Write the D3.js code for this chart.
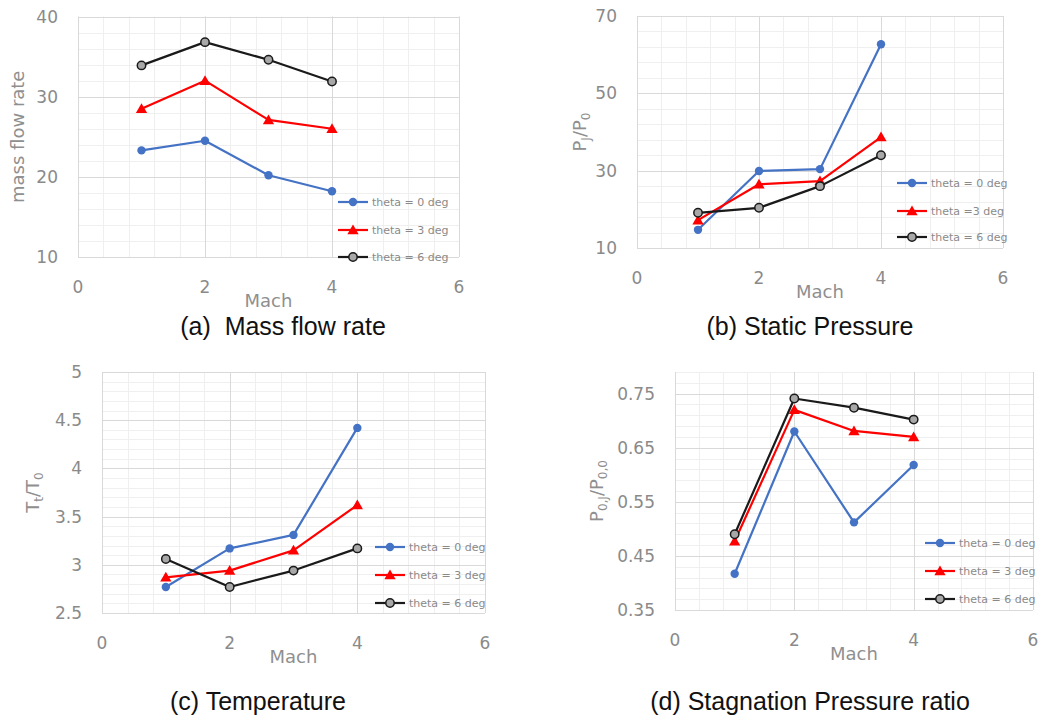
<!DOCTYPE html>
<html lang="en">
<head>
    <meta charset="UTF-8">
    <title>Mach number study</title>
    <style>
        body { margin: 0; background: #fff; }
        svg { display: block; }
        .tick-label { font-family: "DejaVu Sans", sans-serif; font-size: 17px; fill: #8a8a8a; }
        .axis-title { font-family: "DejaVu Sans", sans-serif; font-size: 18px; fill: #8f8f8f; }
        .legend-text { font-family: "DejaVu Sans", sans-serif; font-size: 11px; fill: #8a8a8a; }
        .caption { font-family: "Liberation Sans", Arial, sans-serif; font-size: 25px; fill: #111; }
        .grid-major { stroke: #d9d9d9; stroke-width: 1; }
        .grid-minor { stroke: #efefef; stroke-width: 1; }
    </style>
    <script src="https://d3js.org/d3.v7.min.js"></script>
</head>
<body>
    <svg width="1041" height="724"></svg>
    <script>
        // shared x values and series names
        const mach = [1, 2, 3, 4];
        const seriesNames = ["theta = 0 deg", "theta = 3 deg", "theta = 6 deg"];
        const seriesNamesB = ["theta = 0 deg", "theta =3 deg", "theta = 6 deg"];
        const xTicks = [0, 2, 4, 6];

        // (a) mass flow rate
        const massFlow0 = [23.3, 24.5, 20.2, 18.2];
        const massFlow3 = [28.5, 32.0, 27.1, 26.0];
        const massFlow6 = [33.9, 36.8, 34.6, 31.9];
        const massTicks = [10, 20, 30, 40];

        // (b) static pressure ratio
        const pres0 = [14.7, 29.9, 30.4, 62.7];
        const pres3 = [17.2, 26.5, 27.3, 38.7];
        const pres6 = [19.1, 20.4, 26.0, 34.0];
        const presTicks = [10, 30, 50, 70];

        // (c) temperature ratio
        const temp0 = [2.77, 3.17, 3.31, 4.42];
        const temp3 = [2.87, 2.94, 3.15, 3.62];
        const temp6 = [3.06, 2.77, 2.94, 3.17];
        const tempTicks = [2.5, 3, 3.5, 4, 4.5, 5];

        // (d) stagnation pressure ratio
        const stag0 = [0.417, 0.680, 0.512, 0.618];
        const stag3 = [0.477, 0.720, 0.681, 0.670];
        const stag6 = [0.490, 0.741, 0.724, 0.702];
        const stagTicks = [0.35, 0.45, 0.55, 0.65, 0.75];

        const colors = ["#4472C4", "#FF0000", "#1a1a1a"];

        const panels = [
            { series: [massFlow0, massFlow3, massFlow6], names: seriesNames, yDomain: [10, 40], yTicks: massTicks,
              yMinor: 2, fmt: d => d, x0: 78, x1: 459, yTop: 16.5, yBot: 257,
              yTitle: [["mass flow rate", null]], yTitleDx: 60,
              leg: { dx: 121, dy: [-55, -27, 0] }, caption: "(a)  Mass flow rate", capX: 283, capY: 335 },
            { series: [pres0, pres3, pres6], names: seriesNamesB, yDomain: [10, 70], yTicks: presTicks,
              yMinor: 4, fmt: d => d, x0: 637, x1: 1003, yTop: 16, yBot: 248,
              yTitle: [["P", null], ["J", "sub"], ["/P", null], ["0", "sub"]], yTitleDx: 57,
              leg: { dx: 106, dy: [-65, -37, -11] }, caption: "(b) Static Pressure", capX: 810, capY: 335 },
            { series: [temp0, temp3, temp6], names: seriesNames, yDomain: [2.5, 5], yTicks: tempTicks,
              yMinor: 0.1, fmt: d => d, x0: 102, x1: 485, yTop: 372, yBot: 613,
              yTitle: [["T", null], ["t", "sub"], ["/T", null], ["0", "sub"]], yTitleDx: 69,
              leg: { dx: 110, dy: [-66, -38, -10] }, caption: "(c) Temperature", capX: 258, capY: 710 },
            { series: [stag0, stag3, stag6], names: seriesNames, yDomain: [0.35, 0.79], yTicks: stagTicks,
              yMinor: 0.02, fmt: d => d.toFixed(2), x0: 675, x1: 1033, yTop: 372, yBot: 610,
              yTitle: [["P", null], ["0,J", "sub"], ["/P", null], ["0,0", "sub"]], yTitleDx: 78,
              leg: { dx: 108, dy: [-67, -39, -11] }, caption: "(d) Stagnation Pressure ratio", capX: 810, capY: 710 }
        ];

        const svg = d3.select("svg");

        function drawMarker(g, i, cx, cy, c) {
            if (i === 0) {
                g.append("circle").attr("cx", cx).attr("cy", cy).attr("r", 4.2).attr("fill", c);
            } else if (i === 1) {
                g.append("path")
                    .attr("d", d3.symbol().type(d3.symbolTriangle).size(55)())
                    .attr("transform", `translate(${cx},${cy + 1})`)
                    .attr("fill", c);
            } else {
                g.append("circle").attr("cx", cx).attr("cy", cy).attr("r", 4.2)
                    .attr("fill", "#a8a8a8").attr("stroke", c).attr("stroke-width", 1.5);
            }
        }

        panels.forEach(p => {
            const x = d3.scaleLinear().domain([0, 6]).range([p.x0, p.x1]);
            const y = d3.scaleLinear().domain(p.yDomain).range([p.yBot, p.yTop]);
            const g = svg.append("g");

            // minor grid
            const xMinor = d3.range(0, 6.001, 0.4);
            const yMinor = d3.range(p.yDomain[0], p.yDomain[1] + 1e-9, p.yMinor);
            g.selectAll(".vmin").data(xMinor).enter().append("line")
                .attr("class", "grid-minor")
                .attr("x1", d => Math.round(x(d)) + 0.5).attr("x2", d => Math.round(x(d)) + 0.5)
                .attr("y1", p.yTop).attr("y2", p.yBot);
            g.selectAll(".hmin").data(yMinor).enter().append("line")
                .attr("class", "grid-minor")
                .attr("x1", p.x0).attr("x2", p.x1)
                .attr("y1", d => Math.round(y(d)) + 0.5).attr("y2", d => Math.round(y(d)) + 0.5);

            // major grid
            g.selectAll(".vmaj").data(xTicks).enter().append("line")
                .attr("class", "grid-major")
                .attr("x1", d => Math.round(x(d)) + 0.5).attr("x2", d => Math.round(x(d)) + 0.5)
                .attr("y1", p.yTop).attr("y2", p.yBot);
            g.selectAll(".hmaj").data(p.yTicks).enter().append("line")
                .attr("class", "grid-major")
                .attr("x1", p.x0).attr("x2", p.x1)
                .attr("y1", d => Math.round(y(d)) + 0.5).attr("y2", d => Math.round(y(d)) + 0.5);

            // tick labels
            g.selectAll(".yl").data(p.yTicks).enter().append("text")
                .attr("class", "tick-label")
                .attr("x", p.x0 - 20).attr("y", d => y(d) + 6)
                .attr("text-anchor", "end")
                .text(p.fmt);
            g.selectAll(".xl").data(xTicks).enter().append("text")
                .attr("class", "tick-label")
                .attr("x", d => x(d)).attr("y", p.yBot + 36)
                .attr("text-anchor", "middle")
                .text(d => d);

            // axis titles
            g.append("text").attr("class", "axis-title")
                .attr("x", (p.x0 + p.x1) / 2).attr("y", p.yBot + 50)
                .attr("text-anchor", "middle").text("Mach");

            const yt = g.append("text").attr("class", "axis-title")
                .attr("transform", `translate(${p.x0 - p.yTitleDx + 6},${(p.yTop + p.yBot) / 2}) rotate(-90)`)
                .attr("text-anchor", "middle");
            p.yTitle.forEach(([t, sub]) => {
                const ts = yt.append("tspan").text(t);
                if (sub) ts.attr("font-size", "12px").attr("dy", 4);
                else if (yt.selectAll("tspan").size() > 1) ts.attr("dy", -4);
            });

            // series
            const line = d3.line().x((d, k) => x(mach[k])).y(d => y(d));
            p.series.forEach((vals, i) => {
                g.append("path").datum(vals)
                    .attr("d", line)
                    .attr("fill", "none")
                    .attr("stroke", colors[i])
                    .attr("stroke-width", 2.2)
                    .attr("stroke-linejoin", "round");
                vals.forEach((v, k) => drawMarker(g, i, x(mach[k]), y(v), colors[i]));
            });

            // legend
            p.names.forEach((n, i) => {
                const lx = p.x1 - p.leg.dx;
                const ly = p.yBot + p.leg.dy[i];
                g.append("line").attr("x1", lx).attr("x2", lx + 30)
                    .attr("y1", ly).attr("y2", ly)
                    .attr("stroke", colors[i]).attr("stroke-width", 2.2);
                drawMarker(g, i, lx + 15, ly, colors[i]);
                g.append("text").attr("class", "legend-text")
                    .attr("x", lx + 34).attr("y", ly + 4).text(n);
            });

            // caption
            svg.append("text").attr("class", "caption")
                .attr("x", p.capX).attr("y", p.capY)
                .attr("text-anchor", "middle")
                .attr("xml:space", "preserve")
                .text(p.caption);
        });
    </script>
</body>
</html>
